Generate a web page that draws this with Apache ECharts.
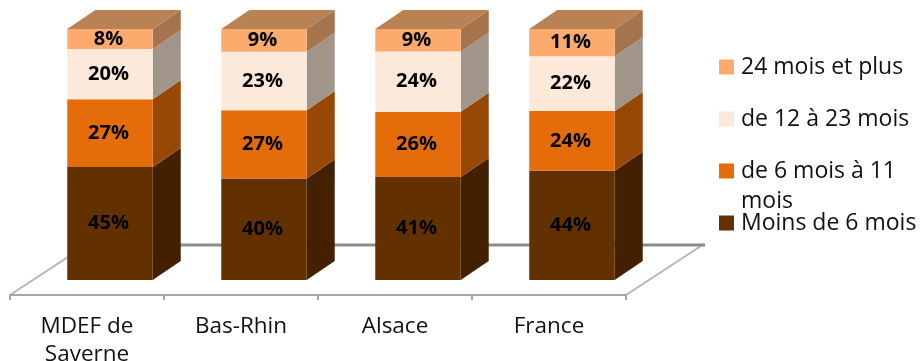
<!DOCTYPE html>
<html><head><meta charset="utf-8">
<style>html,body{margin:0;padding:0;background:#fff}#c{width:921px;height:361px}</style>
<script src="https://cdn.jsdelivr.net/npm/echarts@6/dist/echarts.min.js"></script>
</head><body><div id="c"></div>
<script>
const categories = ['MDEF de\nSaverne', 'Bas-Rhin', 'Alsace', 'France'];
const moins6 = [45, 40, 41, 44];
const de6a11 = [27, 27, 26, 24];
const de12a23 = [20, 23, 24, 22];
const plus24 = [8, 9, 9, 11];
const seriesNames = ['Moins de 6 mois', 'de 6 mois à 11\nmois', 'de 12 à 23 mois', '24 mois et plus'];
const seriesValues = [moins6, de6a11, de12a23, plus24];
const frontColors = ['#633100', '#e46c0a', '#fde9d9', '#fcaa6e'];
const sideColors = ['#432100', '#964804', '#a19589', '#a6744c'];
const topColor = '#b98255';
const FONT = '"Open Sans"';
const DX = 28, DY = -19, BAR = 0.555;

const chart = echarts.init(document.getElementById('c'), null, {renderer: 'canvas'});
const totals = categories.map((_, i) => seriesValues.reduce((s, v) => s + v[i], 0));
const series = seriesValues.map((vals, si) => ({
  name: seriesNames[si],
  type: 'custom',
  xAxisIndex: 1,
  yAxisIndex: 1,
  itemStyle: {color: frontColors[si]},
  data: vals.map((v, i) => {
    let below = 0;
    for (let k = 0; k < si; k++) below += seriesValues[k][i];
    return [i, below / totals[i] * 100, (below + v) / totals[i] * 100, v];
  }),
  encode: {x: 0, y: [1, 2]},
  renderItem: (params, api) => {
    const c0 = api.coord([api.value(0), api.value(1)]);
    const c1 = api.coord([api.value(0), api.value(2)]);
    const w = api.size([1, 0])[0] * BAR;
    const l = c0[0] - w / 2, r = c0[0] + w / 2, b = c0[1], t = c1[1];
    const children = [
      {type: 'polygon', shape: {points: [[r, b], [r + DX, b + DY], [r + DX, t + DY], [r, t]]}, style: {fill: sideColors[si]}},
      {type: 'rect', shape: {x: l, y: t, width: w, height: b - t}, style: {fill: frontColors[si]}}
    ];
    if (si === seriesValues.length - 1) {
      children.push({type: 'polygon', shape: {points: [[l, t], [l + DX, t + DY], [r + DX, t + DY], [r, t]]}, style: {fill: topColor}});
    }
    children.push({type: 'text', style: {text: api.value(3) + '%', x: c0[0] - 1.5, y: (b + t) / 2, align: 'center', verticalAlign: 'middle', fill: '#000', font: 'bold 20px ' + FONT}});
    return {type: 'group', children};
  }
}));

const legendTops = [52, 104, 126, 208];
const legends = [3, 2, 1, 0].map((si, i) => ({
  left: 719,
  top: legendTops[i],
  padding: 0,
  orient: 'vertical',
  data: [seriesNames[si]],
  icon: 'rect',
  itemWidth: 15,
  itemHeight: 15,
  itemGap: 0,
  selectedMode: false,
  formatter: n => n.indexOf('\n') >= 0 ? '\u00a0\n' + n : n,
  textStyle: {fontFamily: FONT, fontSize: 23, color: '#111', lineHeight: 30, padding: [0, 0, 0, 2]}
}));

chart.setOption({
  animation: false,
  backgroundColor: '#fff',
  legend: legends,
  grid: [
    {left: 10, width: 616, top: 29, height: 266, outerBoundsMode: 'none'},
    {left: 33, width: 616, top: 29, height: 251, outerBoundsMode: 'none'}
  ],
  xAxis: [
    {gridIndex: 0, type: 'category', data: categories,
     axisLine: {lineStyle: {color: '#a6a6a6', width: 2}},
     axisTick: {show: true, length: 5, alignWithLabel: false, lineStyle: {color: '#a6a6a6', width: 2}},
     axisLabel: {fontFamily: FONT, fontSize: 22.5, color: '#111', lineHeight: 28, margin: 18}},
    {gridIndex: 1, type: 'category', data: categories, show: false}
  ],
  yAxis: [
    {gridIndex: 0, type: 'value', show: false, min: 0, max: 100},
    {gridIndex: 1, type: 'value', show: false, min: 0, max: 100}
  ],
  graphic: [
    {type: 'polyline', z: 0, shape: {points: [[10, 295], [68, 257]]}, style: {stroke: '#b5b5b5', lineWidth: 2, fill: null}},
    {type: 'polyline', z: 0, shape: {points: [[626, 295], [704, 244]]}, style: {stroke: '#b5b5b5', lineWidth: 2, fill: null}},
    {type: 'polyline', z: 0, shape: {points: [[180, 245], [705, 245]]}, style: {stroke: '#8c8c8c', lineWidth: 3, fill: null}}
  ],
  series
});
</script></body></html>
